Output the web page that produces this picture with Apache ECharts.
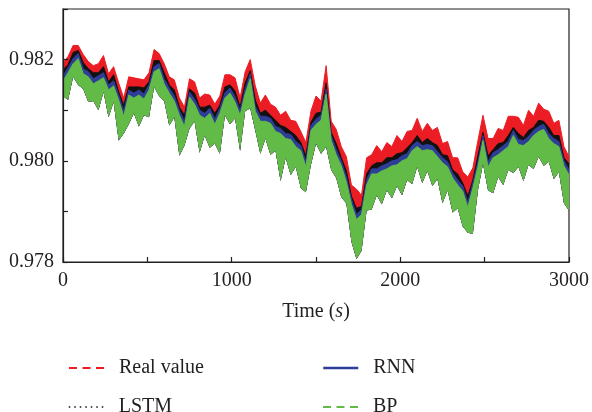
<!DOCTYPE html>
<html>
<head>
<meta charset="utf-8">
<script src="https://cdn.jsdelivr.net/npm/echarts@6/dist/echarts.min.js"></script>
<style>
  html, body { margin: 0; padding: 0; background: #fff; }
  #chart { width: 592px; height: 412px; }
</style>
</head>
<body>
<div id="chart"></div>
<script>
// time axis (s)
const timeSec = [
  0, 30, 60, 90, 120, 150, 180, 210, 240, 270,
  300, 330, 360, 390, 420, 450, 480, 510, 540, 570,
  600, 630, 660, 690, 720, 750, 780, 810, 840, 870,
  900, 930, 960, 990, 1020, 1050, 1080, 1110, 1140, 1170,
  1200, 1230, 1260, 1290, 1320, 1350, 1380, 1410, 1440, 1470,
  1500, 1530, 1560, 1590, 1620, 1650, 1680, 1710, 1740, 1770,
  1800, 1830, 1860, 1890, 1920, 1950, 1980, 2010, 2040, 2070,
  2100, 2130, 2160, 2190, 2220, 2250, 2280, 2310, 2340, 2370,
  2400, 2430, 2460, 2490, 2520, 2550, 2580, 2610, 2640, 2670,
  2700, 2730, 2760, 2790, 2820, 2850, 2880, 2910, 2940, 2970,
  3000
]

// upper edge of each noisy trace
const realValueTop = [
  0.98194, 0.98206, 0.98228, 0.98228, 0.98210, 0.98196, 0.98188, 0.98192, 0.98208, 0.98172,
  0.98186, 0.98154, 0.98124, 0.98166, 0.98164, 0.98162, 0.98160, 0.98174, 0.98220, 0.98212,
  0.98192, 0.98166, 0.98160, 0.98124, 0.98106, 0.98162, 0.98156, 0.98124, 0.98132, 0.98130,
  0.98112, 0.98128, 0.98170, 0.98170, 0.98164, 0.98124, 0.98176, 0.98200, 0.98148, 0.98114,
  0.98130, 0.98112, 0.98106, 0.98090, 0.98098, 0.98080, 0.98078, 0.98058, 0.98036, 0.98098,
  0.98128, 0.98118, 0.98188, 0.98078, 0.98062, 0.98028, 0.98008, 0.97952, 0.97944, 0.97932,
  0.98006, 0.98012, 0.98030, 0.98018, 0.98036, 0.98028, 0.98050, 0.98038, 0.98058, 0.98060,
  0.98084, 0.98058, 0.98074, 0.98060, 0.98066, 0.98034, 0.98038, 0.98006, 0.98006, 0.97978,
  0.97968, 0.97986, 0.98040, 0.98090, 0.98044, 0.98044, 0.98064, 0.98060, 0.98088, 0.98088,
  0.98086, 0.98070, 0.98100, 0.98088, 0.98114, 0.98102, 0.98098, 0.98074, 0.98080, 0.98028,
  0.98008
]

const lstmTop = [
  0.98180, 0.98190, 0.98214, 0.98218, 0.98194, 0.98182, 0.98174, 0.98174, 0.98186, 0.98156,
  0.98170, 0.98136, 0.98110, 0.98146, 0.98146, 0.98146, 0.98144, 0.98156, 0.98198, 0.98198,
  0.98174, 0.98150, 0.98140, 0.98106, 0.98090, 0.98142, 0.98134, 0.98106, 0.98106, 0.98110,
  0.98094, 0.98110, 0.98146, 0.98150, 0.98138, 0.98106, 0.98154, 0.98178, 0.98120, 0.98094,
  0.98100, 0.98090, 0.98080, 0.98070, 0.98066, 0.98058, 0.98050, 0.98036, 0.98010, 0.98076,
  0.98094, 0.98096, 0.98154, 0.98056, 0.98034, 0.98006, 0.97980, 0.97930, 0.97906, 0.97910,
  0.97974, 0.97990, 0.97996, 0.97996, 0.98006, 0.98006, 0.98014, 0.98016, 0.98026, 0.98036,
  0.98050, 0.98036, 0.98044, 0.98036, 0.98030, 0.98012, 0.98010, 0.97982, 0.97974, 0.97956,
  0.97930, 0.97962, 0.98010, 0.98056, 0.98010, 0.98022, 0.98034, 0.98036, 0.98050, 0.98066,
  0.98054, 0.98046, 0.98060, 0.98066, 0.98080, 0.98078, 0.98066, 0.98050, 0.98050, 0.98006,
  0.97994
]

const rnnTop = [
  0.98168, 0.98184, 0.98202, 0.98212, 0.98182, 0.98176, 0.98162, 0.98168, 0.98174, 0.98150,
  0.98158, 0.98130, 0.98098, 0.98140, 0.98134, 0.98140, 0.98132, 0.98150, 0.98186, 0.98192,
  0.98162, 0.98144, 0.98128, 0.98100, 0.98078, 0.98136, 0.98122, 0.98100, 0.98094, 0.98104,
  0.98082, 0.98104, 0.98134, 0.98144, 0.98126, 0.98100, 0.98142, 0.98172, 0.98108, 0.98088,
  0.98088, 0.98084, 0.98068, 0.98064, 0.98054, 0.98052, 0.98038, 0.98030, 0.97998, 0.98070,
  0.98082, 0.98090, 0.98142, 0.98050, 0.98022, 0.98000, 0.97968, 0.97924, 0.97894, 0.97904,
  0.97962, 0.97984, 0.97984, 0.97990, 0.97994, 0.98000, 0.98002, 0.98010, 0.98014, 0.98030,
  0.98038, 0.98030, 0.98032, 0.98030, 0.98018, 0.98006, 0.97998, 0.97976, 0.97962, 0.97950,
  0.97918, 0.97956, 0.97998, 0.98050, 0.97998, 0.98016, 0.98022, 0.98030, 0.98038, 0.98060,
  0.98042, 0.98040, 0.98048, 0.98060, 0.98068, 0.98072, 0.98054, 0.98044, 0.98038, 0.98000,
  0.97982
]

const bpTop = [
  0.98158, 0.98174, 0.98192, 0.98202, 0.98172, 0.98166, 0.98152, 0.98158, 0.98164, 0.98140,
  0.98148, 0.98120, 0.98088, 0.98130, 0.98124, 0.98130, 0.98122, 0.98140, 0.98176, 0.98182,
  0.98152, 0.98134, 0.98118, 0.98090, 0.98068, 0.98126, 0.98112, 0.98090, 0.98084, 0.98094,
  0.98072, 0.98094, 0.98124, 0.98134, 0.98116, 0.98090, 0.98132, 0.98162, 0.98098, 0.98078,
  0.98078, 0.98074, 0.98058, 0.98054, 0.98044, 0.98042, 0.98028, 0.98020, 0.97988, 0.98060,
  0.98072, 0.98080, 0.98132, 0.98040, 0.98012, 0.97990, 0.97958, 0.97914, 0.97884, 0.97894,
  0.97952, 0.97974, 0.97974, 0.97980, 0.97984, 0.97990, 0.97992, 0.98000, 0.98004, 0.98020,
  0.98028, 0.98020, 0.98022, 0.98020, 0.98008, 0.97996, 0.97988, 0.97966, 0.97952, 0.97940,
  0.97908, 0.97946, 0.97988, 0.98040, 0.97988, 0.98006, 0.98012, 0.98020, 0.98028, 0.98050,
  0.98032, 0.98030, 0.98038, 0.98050, 0.98058, 0.98062, 0.98044, 0.98034, 0.98028, 0.97990,
  0.97972
]

// lower edge of the whole bundle (bottom of the BP trace)
const bpBottom = [
  0.98128, 0.98120, 0.98166, 0.98150, 0.98142, 0.98116, 0.98118, 0.98100, 0.98136, 0.98086,
  0.98116, 0.98040, 0.98054, 0.98072, 0.98094, 0.98068, 0.98090, 0.98086, 0.98146, 0.98128,
  0.98118, 0.98070, 0.98086, 0.98010, 0.98030, 0.98064, 0.98078, 0.98016, 0.98050, 0.98026,
  0.98034, 0.98014, 0.98090, 0.98072, 0.98084, 0.98020, 0.98098, 0.98104, 0.98060, 0.98014,
  0.98044, 0.98012, 0.98020, 0.97960, 0.98006, 0.97972, 0.97988, 0.97946, 0.97938, 0.97992,
  0.98034, 0.98014, 0.98028, 0.97982, 0.97966, 0.97928, 0.97916, 0.97840, 0.97806, 0.97822,
  0.97902, 0.97904, 0.97932, 0.97914, 0.97942, 0.97926, 0.97950, 0.97932, 0.97962, 0.97954,
  0.97988, 0.97956, 0.97980, 0.97950, 0.97964, 0.97916, 0.97942, 0.97898, 0.97906, 0.97870,
  0.97858, 0.97856, 0.97942, 0.97994, 0.97942, 0.97936, 0.97968, 0.97952, 0.97982, 0.97976,
  0.97988, 0.97960, 0.97992, 0.97984, 0.98008, 0.97990, 0.97998, 0.97964, 0.97978, 0.97916,
  0.97902
]

const xTickLabels = [0, 1000, 2000, 3000]
const yTickLabels = ['0.978', '0.980', '0.982']

const FONT = '"Liberation Serif", "DejaVu Serif", serif'
const INK = '#231f20'

const COLORS = {
  'Real value': '#ec1c24',
  'LSTM': '#111111',
  'RNN': '#2e3d98',
  'BP': '#62bb46'
}

// each trace is drawn as a noisy band: transparent base at the bundle bottom,
// stacked band up to the trace's upper edge.
// items are [value, time] so the stacked dimension is the y value
const bandSeries = (name, top) => {
  const color = COLORS[name]
  return [
    {
      name: name + '-base',
      type: 'line',
      stack: name,
      encode: { x: 1, y: 0 },
      data: bpBottom.map((v, i) => [v, timeSec[i]]),
      symbol: 'none',
      silent: true,
      lineStyle: { width: 0, opacity: 0 }
    },
    {
      name,
      type: 'line',
      stack: name,
      encode: { x: 1, y: 0 },
      data: top.map((v, i) => [+(v - bpBottom[i]).toFixed(6), timeSec[i]]),
      symbol: 'none',
      lineStyle: { color, width: 1 },
      itemStyle: { color },
      areaStyle: { color, opacity: 1 }
    }
  ]
}

const legendText = {
  fontFamily: FONT,
  fontSize: 20,
  lineHeight: 20,
  color: INK,
  padding: [0, 0, 0, 10]
}

const legendItem = (name, left, top, lineStyle) => ({
  left,
  top,
  itemWidth: 35,
  itemHeight: 14,
  textStyle: legendText,
  selectedMode: false,
  data: [{
    name,
    lineStyle: Object.assign({ color: COLORS[name] }, lineStyle),
    itemStyle: { opacity: 0 }
  }]
})

const chart = echarts.init(document.getElementById('chart'))

chart.setOption({
  animation: false,
  grid: {
    left: 63,
    right: 20,
    top: 9,
    bottom: 150,
    show: true,
    borderColor: INK,
    borderWidth: 1.2
  },
  xAxis: {
    type: 'value',
    min: 0,
    max: 3000,
    interval: 500,
    z: 5,
    name: '{n|Time (}{i|s}{n|)}',
    nameLocation: 'middle',
    nameGap: 40,
    nameTextStyle: {
      rich: {
        n: { fontFamily: FONT, fontSize: 20, color: INK },
        i: { fontFamily: FONT, fontSize: 20, color: INK, fontStyle: 'italic' }
      }
    },
    axisLine: { lineStyle: { color: INK, width: 1.2 } },
    axisTick: { inside: true, length: 5, lineStyle: { color: INK, width: 1.2 } },
    axisLabel: {
      margin: 9,
      fontFamily: FONT,
      fontSize: 20,
      color: INK,
      formatter: v => (xTickLabels.includes(v) ? String(v) : '')
    },
    splitLine: { show: false }
  },
  yAxis: {
    type: 'value',
    min: 0.978,
    max: 0.983,
    interval: 0.001,
    z: 5,
    axisLine: { show: true, lineStyle: { color: INK, width: 1.2 } },
    axisTick: { show: true, inside: true, length: 5, lineStyle: { color: INK, width: 1.2 } },
    axisLabel: {
      margin: 9,
      fontFamily: FONT,
      fontSize: 20,
      color: INK,
      formatter: v => {
        const s = v.toFixed(3)
        return yTickLabels.includes(s) ? s : ''
      }
    },
    splitLine: { show: false }
  },
  legend: [
    legendItem('Real value', 63, 353, { type: [8, 5.5], width: 2 }),
    legendItem('LSTM', 63, 392, { type: [1.5, 4], width: 1.5 }),
    legendItem('RNN', 317, 353, { type: 'solid', width: 2.5 }),
    legendItem('BP', 317, 392, { type: [8, 5.5], width: 2 })
  ],
  series: [
    ...bandSeries('Real value', realValueTop),
    ...bandSeries('LSTM', lstmTop),
    ...bandSeries('RNN', rnnTop),
    ...bandSeries('BP', bpTop)
  ]
})
</script>
</body>
</html>
